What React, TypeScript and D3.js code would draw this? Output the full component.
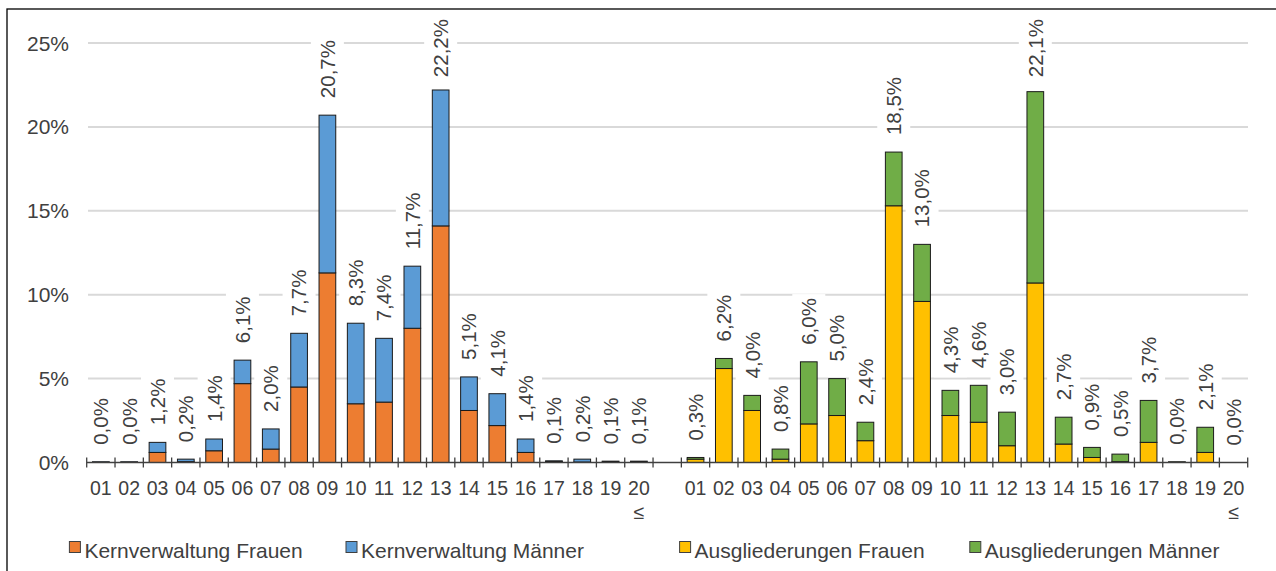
import React, { useEffect, useRef } from 'react';
import * as d3 from 'd3';

const categories = ['01', '02', '03', '04', '05', '06', '07', '08', '09', '10',
  '11', '12', '13', '14', '15', '16', '17', '18', '19', '20 ≤'];

const kernFrauen = [0.02, 0.02, 0.6, 0.05, 0.7, 4.7, 0.8, 4.5, 11.3, 3.5, 3.6, 8.0, 14.1, 3.1, 2.2, 0.6, 0.06, 0.03, 0.03, 0.03];
const kernMaenner = [0.02, 0.02, 0.6, 0.15, 0.7, 1.4, 1.2, 3.2, 9.4, 4.8, 3.8, 3.7, 8.1, 2.0, 1.9, 0.8, 0.04, 0.17, 0.05, 0.05];
const kernLabels = ['0,0%', '0,0%', '1,2%', '0,2%', '1,4%', '6,1%', '2,0%', '7,7%', '20,7%', '8,3%', '7,4%', '11,7%', '22,2%', '5,1%', '4,1%', '1,4%', '0,1%', '0,2%', '0,1%', '0,1%'];

const ausFrauen = [0.2, 5.6, 3.1, 0.2, 2.3, 2.8, 1.3, 15.3, 9.6, 2.8, 2.4, 1.0, 10.7, 1.1, 0.3, 0.05, 1.2, 0.02, 0.6, 0];
const ausMaenner = [0.1, 0.6, 0.9, 0.6, 3.7, 2.2, 1.1, 3.2, 3.4, 1.5, 2.2, 2.0, 11.4, 1.6, 0.6, 0.45, 2.5, 0.02, 1.5, 0];
const ausLabels = ['0,3%', '6,2%', '4,0%', '0,8%', '6,0%', '5,0%', '2,4%', '18,5%', '13,0%', '4,3%', '4,6%', '3,0%', '22,1%', '2,7%', '0,9%', '0,5%', '3,7%', '0,0%', '2,1%', '0,0%'];

const yTicks = [0, 5, 10, 15, 20, 25];

const legendItems = [
  { name: 'Kernverwaltung Frauen', color: '#ED7D31' },
  { name: 'Kernverwaltung Männer', color: '#5B9BD5' },
  { name: 'Ausgliederungen Frauen', color: '#FFC000' },
  { name: 'Ausgliederungen Männer', color: '#70AD47' },
];

interface Row {
  key: string;
  label: string;
  lower: number;
  upper: number;
  lowerColor: string;
  upperColor: string;
  total: string;
}

const rows: Row[] = [
  ...categories.map((c, i) => ({
    key: 'K' + i, label: c, lower: kernFrauen[i], upper: kernMaenner[i],
    lowerColor: '#ED7D31', upperColor: '#5B9BD5', total: kernLabels[i],
  })),
  { key: 'gap', label: '', lower: 0, upper: 0, lowerColor: 'none', upperColor: 'none', total: '' },
  ...categories.map((c, i) => ({
    key: 'A' + i, label: c, lower: ausFrauen[i], upper: ausMaenner[i],
    lowerColor: '#FFC000', upperColor: '#70AD47', total: ausLabels[i],
  })),
];

const W = 1276;
const H = 571;
const FONT = '"Liberation Sans", Arial, sans-serif';
const TEXT = '#404040';

const App: React.FC = () => {
  const svgRef = useRef<SVGSVGElement>(null);

  useEffect(() => {
    if (!svgRef.current) return;
    const svg = d3.select(svgRef.current);
    svg.selectAll('*').remove();

    const x = d3.scaleBand()
      .domain(rows.map(d => d.key))
      .range([86.7, 1247.7])
      .paddingInner(0.41)
      .paddingOuter(0.205);

    const y = d3.scaleLinear().domain([0, 25]).range([462.5, 43]);
    const step = x.step();
    const x0 = x.range()[0];

    // frame
    svg.append('rect')
      .attr('x', 7).attr('y', 9).attr('width', W).attr('height', H)
      .attr('fill', 'white').attr('stroke', '#000').attr('stroke-width', 1.3);

    // gridlines
    svg.append('g')
      .selectAll('line')
      .data(yTicks.filter(t => t > 0))
      .enter().append('line')
      .attr('x1', 88).attr('x2', 1248)
      .attr('y1', d => y(d)).attr('y2', d => y(d))
      .attr('stroke', '#d9d9d9').attr('stroke-width', 2);

    // y labels
    svg.append('g')
      .selectAll('text')
      .data(yTicks)
      .enter().append('text')
      .attr('x', 69).attr('y', d => y(d))
      .attr('dy', '0.36em')
      .attr('text-anchor', 'end')
      .attr('font-family', FONT).attr('font-size', 21).attr('fill', TEXT)
      .text(d => `${d}%`);

    const bars = rows.filter(d => d.key !== 'gap');
    const cx = (d: Row) => (x(d.key) || 0) + x.bandwidth() / 2;

    // label backgrounds + labels (positioned after measuring)
    const boxG = svg.append('g');
    const barG = svg.append('g');
    const labelG = svg.append('g');

    const labels = labelG.selectAll<SVGTextElement, Row>('text')
      .data(bars)
      .enter().append('text')
      .attr('font-family', FONT).attr('font-size', 20.5).attr('fill', TEXT)
      .attr('text-anchor', 'start')
      .attr('dy', '0.36em')
      .text(d => d.total);

    labels.each(function (d) {
      const len = this.getComputedTextLength();
      let anchor = y(d.lower + d.upper) - 17;
      if (anchor - len < 19) anchor = 19 + len;
      d3.select(this).attr('transform', `translate(${cx(d)},${anchor}) rotate(-90)`);
      boxG.append('rect')
        .attr('x', cx(d) - 16.5).attr('y', anchor - len - 4)
        .attr('width', 33).attr('height', len + 8)
        .attr('fill', 'white');
    });

    // stacked bars
    barG.selectAll('rect.lower')
      .data(bars)
      .enter().append('rect')
      .attr('class', 'lower')
      .attr('x', d => x(d.key) || 0)
      .attr('width', x.bandwidth())
      .attr('y', d => y(d.lower))
      .attr('height', d => y(0) - y(d.lower))
      .attr('fill', d => d.lowerColor)
      .attr('stroke', '#1a1a1a').attr('stroke-width', 1);

    barG.selectAll('rect.upper')
      .data(bars)
      .enter().append('rect')
      .attr('class', 'upper')
      .attr('x', d => x(d.key) || 0)
      .attr('width', x.bandwidth())
      .attr('y', d => y(d.lower + d.upper))
      .attr('height', d => y(d.lower) - y(d.lower + d.upper))
      .attr('fill', d => d.upperColor)
      .attr('stroke', '#1a1a1a').attr('stroke-width', 1);

    // x axis
    const axis = svg.append('g');
    axis.append('line')
      .attr('x1', x0).attr('x2', x.range()[1])
      .attr('y1', y(0)).attr('y2', y(0))
      .attr('stroke', '#404040').attr('stroke-width', 1.3);
    axis.selectAll('line.tick')
      .data(d3.range(rows.length + 1))
      .enter().append('line')
      .attr('class', 'tick')
      .attr('x1', i => x0 + i * step).attr('x2', i => x0 + i * step)
      .attr('y1', y(0) - 5).attr('y2', y(0) + 5)
      .attr('stroke', '#404040').attr('stroke-width', 1.3);

    const xl = axis.selectAll('text')
      .data(bars)
      .enter().append('text')
      .attr('text-anchor', 'middle')
      .attr('font-family', FONT).attr('font-size', 19.5).attr('fill', TEXT);
    xl.each(function (d) {
      const parts = d.label.split(' ');
      const t = d3.select(this);
      parts.forEach((p, i) => {
        t.append('tspan')
          .attr('x', cx(d))
          .attr('y', i === 0 ? 495 : 519)
          .text(p);
      });
    });

    // legend
    const legendX = [69.4, 346, 679.6, 969.8];
    const lg = svg.append('g');
    legendItems.forEach((item, i) => {
      lg.append('rect')
        .attr('x', legendX[i]).attr('y', 541.5)
        .attr('width', 11).attr('height', 11)
        .attr('fill', item.color).attr('stroke', '#404040').attr('stroke-width', 1);
      lg.append('text')
        .attr('x', legendX[i] + 15).attr('y', 558)
        .attr('font-family', FONT).attr('font-size', 21).attr('fill', TEXT)
        .text(item.name);
    });
  }, []);

  return (
    <svg ref={svgRef} width={W} height={H}
      style={{ position: 'absolute', left: 0, top: 0, background: 'white' }} />
  );
};

export default App;
